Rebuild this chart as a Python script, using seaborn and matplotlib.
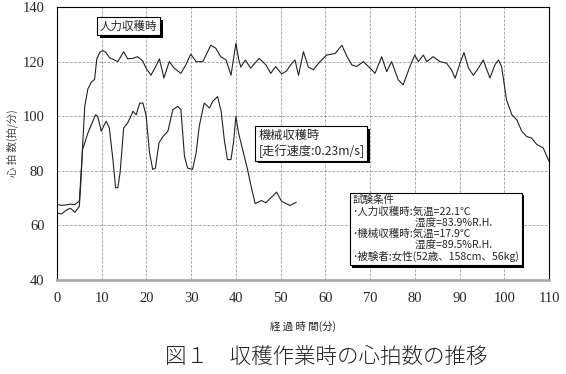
import matplotlib
matplotlib.use("Agg")
import matplotlib.pyplot as plt
import matplotlib.patheffects as pe
from matplotlib.ticker import MultipleLocator
import pandas as pd
import seaborn as sns

# 人力収穫時 (manual harvest)
manual_t = [0, 1, 2, 3, 4, 5, 5.6, 6.2, 6.9, 7.7, 8.4, 8.9, 9.6, 10.3, 11, 11.7, 12.8, 13.6,
            14.9, 15.8, 17, 18, 19.2, 19.9, 21, 22, 22.9, 23.9, 25.1, 26.2, 27.7, 28.8, 29.9,
            31.1, 32.6, 34.4, 35.5, 36.6, 37.8, 38.9, 40, 40.6, 41.1, 42.1, 43.3, 45.2, 46.7,
            47.8, 48.9, 50.2, 51.3, 52.1, 53.2, 54, 55.1, 56.2, 57.3, 58.8, 60.3, 62.2, 63.7,
            64.8, 65.9, 67, 68.5, 70, 71.1, 72.6, 73.7, 74.8, 76.3, 77.4, 78.9, 80, 80.8, 81.9,
            82.7, 84.1, 85.6, 87.1, 88.2, 89, 90.1, 91, 92, 93.1, 94.2, 95.3, 96.1, 96.8, 97.9,
            98.7, 99.4, 100.5, 101.7, 102.8, 103.9, 105, 106.1, 107.3, 108.7, 110]
manual_hr = [67.8, 67.3, 67.5, 67.8, 67.6, 69, 85, 103.6, 110, 112.5, 113.5, 121, 123.5, 124,
             123.2, 121.5, 120.6, 120, 123.6, 121, 121.2, 121.8, 120.2, 117.6, 115, 118, 121,
             114, 120, 117.6, 115.7, 118.8, 122.7, 120, 120, 126, 124.9, 121.8, 120.6, 115,
             126.7, 121, 118, 120.6, 117.6, 121.2, 118.8, 115.7, 118.2, 115.5, 116.5, 118.5,
             120.6, 115, 123.6, 118, 117, 120, 122.4, 123, 126, 122, 118.8, 118.2, 120, 117.6,
             115.7, 121.8, 116.3, 120, 113.3, 111.5, 118.2, 122.4, 120, 122.4, 120, 121.8, 120,
             119.4, 117, 113.9, 119.4, 123.3, 117.6, 115, 117.6, 120.6, 117, 114, 118.8, 120.6,
             118.2, 106, 100.5, 98.7, 94.5, 92.6, 92, 89.6, 88.4, 83.5]

# 機械収穫時 (machine harvest)
machine_t = [0, 1, 2, 3, 4, 5, 5.3, 5.7, 6.2, 6.9, 7.7, 8.6, 9.1, 9.9, 10.4, 11, 11.7, 12.5,
             13.1, 13.6, 14.1, 14.9, 15.8, 17, 17.7, 18.5, 19.2, 19.9, 20.7, 21.4, 22, 22.8,
             23.7, 24.8, 25.9, 27, 27.7, 28.5, 29.2, 30.3, 31.1, 31.8, 32.9, 34.1, 34.8, 35.9,
             36.7, 37.4, 38.1, 38.9, 39.5, 40, 40.6, 41.5, 42.6, 43.3, 44.3, 45.7, 46.7, 49.1,
             50.2, 52.1, 53.5]
machine_hr = [64.5, 64.2, 65.5, 66.3, 64.8, 67, 75, 87.8, 90.2, 93.8, 96.9, 100.5, 100, 94.5,
              96.3, 98.1, 95.7, 84.1, 73.8, 73.8, 79.2, 95.7, 97.5, 101.8, 100.5, 104.8, 104.8,
              100.5, 86.5, 80.5, 81, 90.2, 92.6, 94.5, 102.4, 103.6, 102.4, 85.3, 81, 80.5, 86.5,
              96.3, 104.8, 103, 105.4, 107.2, 101.8, 91.4, 84.1, 84.1, 91, 99.9, 93.8, 87.8,
              80.5, 75, 68, 69.1, 68.3, 72.2, 68.8, 67.3, 68.5]

xticks = [0, 10, 20, 30, 40, 50, 60, 70, 80, 90, 100, 110]
yticks = [40, 60, 80, 100, 120, 140]

label_manual = "人力収穫時"
label_machine = "機械収穫時\n[走行速度:0.23m/s]"
conditions = ("試験条件\n"
              "･人力収穫時:気温=22.1℃\n"
              "　　　　　　湿度=83.9%R.H.\n"
              "･機械収穫時:気温=17.9℃\n"
              "　　　　　　湿度=89.5%R.H.\n"
              "･被験者:女性(52歳、158cm、56kg)")

df_manual = pd.DataFrame({"t": manual_t, "hr": manual_hr})
df_machine = pd.DataFrame({"t": machine_t, "hr": machine_hr})

sns.set_style("white")
plt.rcParams["font.family"] = ["Noto Sans CJK JP", "DejaVu Sans"]
plt.rcParams["font.serif"] = ["Liberation Serif", "DejaVu Serif"]

fig = plt.figure(figsize=(5.66, 3.74), dpi=100)
ax = fig.add_axes([57 / 566, 1 - 280 / 374, 492 / 566, 273 / 374])

sns.lineplot(data=df_manual, x="t", y="hr", ax=ax, color="#222222", lw=0.8, sort=False)
sns.lineplot(data=df_machine, x="t", y="hr", ax=ax, color="#222222", lw=0.8, sort=False)

ax.set_xlim(0, 110)
ax.set_ylim(40, 140)
ax.set_xticks(xticks, labels=[str(v) for v in xticks], family="serif", fontsize=10.5)
ax.set_yticks(yticks, labels=[str(v) for v in yticks], family="serif", fontsize=10.5)
ax.xaxis.set_minor_locator(MultipleLocator(5))
ax.yaxis.set_minor_locator(MultipleLocator(5))
ax.tick_params(which="major", direction="inout", length=6, width=0.8, color="black", pad=6)
ax.tick_params(which="minor", direction="in", length=3, width=0.8, color="black")
ax.grid(True, which="major", ls=(0, (4, 2)), color="#888888", lw=0.5)
for s in ["top", "right", "left"]:
    ax.spines[s].set_color("black")
    ax.spines[s].set_linewidth(0.8)
ax.spines["bottom"].set_color("#aaaaaa")
ax.spines["bottom"].set_linewidth(2)

ax.set_xlabel("")
ax.set_ylabel("")
fig.text(0.535, 0.128, "経 過 時 間(分)", ha="center", va="center", fontsize=7.5, color="#222222")
fig.text(0.021, 1 - 143 / 374, "心 拍 数(拍/分)", ha="center", va="center", rotation=90,
         fontsize=7.5, color="#444444")
fig.text(0.577, 0.045, "図１　収穫作業時の心拍数の推移", ha="center", va="center", fontsize=15.5,
         color="#222222", fontweight="light")

shadow = [pe.SimplePatchShadow(offset=(2, -2), shadow_rgbFace="black", alpha=1), pe.Normal()]
boxes = [
    (9.6, 133, label_manual, 8.3, 1.2),
    (45.0, 90, label_machine, 8.8, 1.15),
    (66.0, 58.8, conditions, 7.6, 1.12),
]
for x, y, txt, fs, ls in boxes:
    t = ax.text(x, y, txt, fontsize=fs, va="center", ha="left", linespacing=ls, zorder=5,
                bbox=dict(boxstyle="square,pad=0.25", fc="white", ec="black", lw=0.8))
    t.get_bbox_patch().set_path_effects(shadow)

fig.savefig("out.png", dpi=100)
